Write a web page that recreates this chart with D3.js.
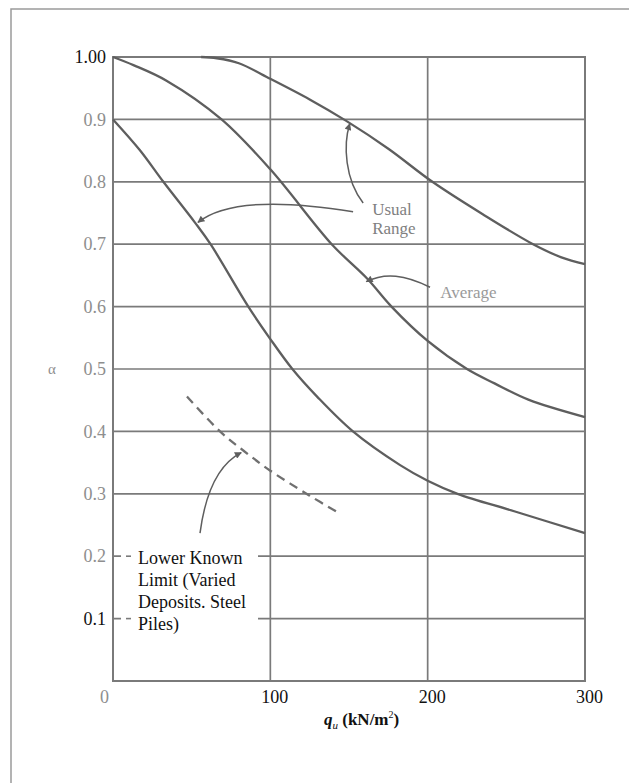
<!DOCTYPE html>
<html>
<head>
<meta charset="utf-8">
<script src="https://cdn.jsdelivr.net/npm/d3@7"></script>
<style>
    body { margin: 0; background: #fff; }
    svg { display: block; }
    text { font-family: "Liberation Serif", "Times New Roman", serif; }
</style>
</head>
<body>
<svg id="chart" width="629" height="783"></svg>
<script>
// alpha vs q_u chart (usual range, average, lower known limit)
var qTicks = [0, 100, 200, 300];
var qLabels = ['0', '100', '200', '300'];
var alphaTicks = [1.0, 0.9, 0.8, 0.7, 0.6, 0.5, 0.4, 0.3, 0.2, 0.1];
var alphaLabels = ['1.00', '0.9', '0.8', '0.7', '0.6', '0.5', '0.4', '0.3', '0.2', '0.1'];
var darkLabels = ['1.00', '0.1', '100', '200', '300'];

// upper bound of usual range
var upperQ = [56, 66, 80, 100, 125, 148, 175, 203, 235, 267, 285, 300];
var upperAlpha = [1.0, 0.998, 0.99, 0.965, 0.932, 0.898, 0.853, 0.80, 0.748, 0.70, 0.679, 0.668];

// average
var averageQ = [0, 13, 34, 69, 100, 139, 161.5, 177, 200, 225, 242.5, 264, 300];
var averageAlpha = [1.0, 0.987, 0.962, 0.90, 0.82, 0.70, 0.645, 0.60, 0.545, 0.50, 0.477, 0.451, 0.423];

// lower bound of usual range
var lowerQ = [0, 17, 32, 52, 62, 86, 100, 114, 130, 152.5, 182.5, 200, 219, 255, 300];
var lowerAlpha = [0.9, 0.851, 0.80, 0.735, 0.70, 0.60, 0.548, 0.50, 0.455, 0.40, 0.346, 0.321, 0.30, 0.272, 0.237];

// lower known limit (dashed)
var limitQ = [47, 68, 83, 100, 125, 143];
var limitAlpha = [0.456, 0.40, 0.369, 0.337, 0.297, 0.27];

var gridColor = '#7a7a7a',
    curveColor = '#5e5e5e',
    lightText = '#8e8e8e';

var svg = d3.select('#chart');

var x = d3.scaleLinear().domain([0, 300]).range([113, 585]);
var y = d3.scaleLinear().domain([0, 1]).range([681, 57]);

var zip = (qs, as) => qs.map((q, i) => [q, as[i]]);

// outer frame (left and top only)
svg.append('path')
    .attr('d', 'M11,783V9H629')
    .attr('fill', 'none')
    .attr('stroke', '#9a9a9a')
    .attr('stroke-width', 1.5);

svg.append('defs').append('marker')
    .attr('id', 'arrow')
    .attr('viewBox', '0 0 10 10')
    .attr('refX', 9)
    .attr('refY', 5)
    .attr('markerWidth', 8)
    .attr('markerHeight', 7)
    .attr('markerUnits', 'userSpaceOnUse')
    .attr('orient', 'auto')
  .append('path')
    .attr('d', 'M0,0L10,5L0,10z')
    .attr('fill', curveColor);

// grid
var grid = svg.append('g').attr('stroke', gridColor).attr('stroke-width', 1.7);
grid.selectAll('line.h')
    .data(alphaTicks.filter(d => d < 1))
    .join('line')
        .attr('class', 'h')
        .attr('x1', x(0)).attr('x2', x(300))
        .attr('y1', d => y(d)).attr('y2', d => y(d));
grid.selectAll('line.v')
    .data(qTicks.filter(d => d > 0 && d < 300))
    .join('line')
        .attr('class', 'v')
        .attr('x1', d => x(d)).attr('x2', d => x(d))
        .attr('y1', y(0)).attr('y2', y(1));

// note layer sits above the grid so it can mask it
var noteLayer = svg.append('g');

svg.append('rect')
    .attr('x', x(0)).attr('y', y(1))
    .attr('width', x(300) - x(0)).attr('height', y(0) - y(1))
    .attr('fill', 'none')
    .attr('stroke', gridColor)
    .attr('stroke-width', 2);

// axes
var yAxis = d3.axisLeft(y)
    .tickValues(alphaTicks)
    .tickSize(0)
    .tickPadding(7)
    .tickFormat((d, i) => alphaLabels[i]);
var ya = svg.append('g').attr('transform', 'translate(' + x(0) + ',0)').call(yAxis);
ya.select('.domain').remove();
ya.selectAll('text')
    .attr('font-family', null)
    .attr('font-size', 18)
    .attr('fill', function () { return darkLabels.indexOf(this.textContent) >= 0 ? '#111' : lightText; });

var xAxis = d3.axisBottom(x)
    .tickValues(qTicks)
    .tickSize(0)
    .tickPadding(9)
    .tickFormat((d, i) => qLabels[i]);
var xa = svg.append('g').attr('transform', 'translate(0,' + y(0) + ')').call(xAxis);
xa.select('.domain').remove();
xa.selectAll('text')
    .attr('font-family', null)
    .attr('font-size', 18)
    .attr('dx', d => d === 0 ? -9 : 4)
    .attr('fill', function () { return darkLabels.indexOf(this.textContent) >= 0 ? '#111' : lightText; });

// axis titles
svg.append('text')
    .attr('x', 48).attr('y', y(0.5) + 5)
    .attr('font-size', 15)
    .attr('fill', lightText)
    .text('α');

var title = svg.append('text')
    .attr('x', x(158)).attr('y', 725)
    .attr('text-anchor', 'middle')
    .attr('font-size', 17)
    .attr('fill', '#111');
title.append('tspan').attr('font-style', 'italic').attr('font-weight', 'bold').text('q');
title.append('tspan').attr('font-style', 'italic').attr('font-size', 11).attr('dy', 4).text('u');
title.append('tspan').attr('font-weight', 'bold').attr('dy', -4).text(' (kN/m');
title.append('tspan').attr('font-size', 10).attr('dy', -7).text('2');
title.append('tspan').attr('font-weight', 'bold').attr('dy', 7).text(')');

// curves
var line = d3.line()
    .x(d => x(d[0]))
    .y(d => y(d[1]))
    .curve(d3.curveCatmullRom.alpha(0.5));

var curves = svg.append('g')
    .attr('fill', 'none')
    .attr('stroke', curveColor)
    .attr('stroke-width', 2.3);

[zip(upperQ, upperAlpha), zip(averageQ, averageAlpha), zip(lowerQ, lowerAlpha)].forEach(function (pts) {
    curves.append('path').attr('d', line(pts));
});

curves.append('path')
    .attr('d', line(zip(limitQ, limitAlpha)))
    .attr('stroke', '#707070')
    .attr('stroke-dasharray', '9,6');

// annotation arrows, control points given in (q, alpha)
function arrow(pts) {
    var p = d3.path();
    p.moveTo(x(pts[0][0]), y(pts[0][1]));
    p.bezierCurveTo(x(pts[1][0]), y(pts[1][1]), x(pts[2][0]), y(pts[2][1]), x(pts[3][0]), y(pts[3][1]));
    svg.append('path')
        .attr('d', p.toString())
        .attr('fill', 'none')
        .attr('stroke', curveColor)
        .attr('stroke-width', 1.5)
        .attr('marker-end', 'url(#arrow)');
}

arrow([[159, 0.766], [147.5, 0.803], [146.2, 0.859], [150.5, 0.893]]);
arrow([[152.6, 0.752], [118.9, 0.766], [74.4, 0.776], [54, 0.735]]);
arrow([[201.5, 0.631], [185.6, 0.651], [172.9, 0.655], [161, 0.640]]);
arrow([[55.3, 0.237], [58.5, 0.298], [66, 0.346], [81.5, 0.366]]);

// labels
function label(parent, q, a, lines, opts) {
    var t = parent.append('text')
        .attr('x', x(q)).attr('y', y(a))
        .attr('font-size', opts.size)
        .attr('fill', opts.color);
    lines.forEach(function (s, i) {
        t.append('tspan').attr('x', x(q)).attr('dy', i ? opts.lh : 0).text(s);
    });
    return t;
}

label(svg, 164.7, 0.747, ['Usual', 'Range'], { size: 17, color: '#808080', lh: 19 });
label(svg, 208, 0.614, ['Average'], { size: 17, color: '#9a9a9a', lh: 0 });

var lk = label(noteLayer, 15.9, 0.1875, ['Lower Known', 'Limit (Varied', 'Deposits. Steel', 'Piles)'],
    { size: 18, color: '#111', lh: 22 });

// break the grid lines behind the lower limit note
var bb = lk.node().getBBox();
noteLayer.insert('rect', () => lk.node())
    .attr('x', bb.x - 17).attr('y', bb.y - 2)
    .attr('width', bb.width + 29).attr('height', bb.height + 4)
    .attr('fill', '#fff');
noteLayer.selectAll('line.stub')
    .data([0.2, 0.1])
    .join('line')
        .attr('class', 'stub')
        .attr('x1', bb.x - 12).attr('x2', bb.x - 7)
        .attr('y1', d => y(d)).attr('y2', d => y(d))
        .attr('stroke', gridColor)
        .attr('stroke-width', 1.6);
</script>
</body>
</html>
